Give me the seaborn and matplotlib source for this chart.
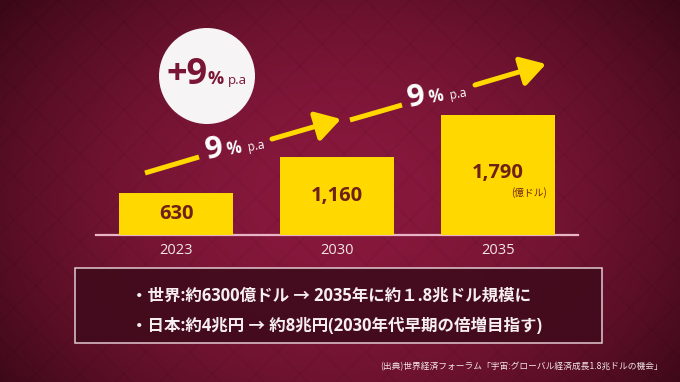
import numpy as np
import pandas as pd
import matplotlib
matplotlib.use("Agg")
import matplotlib.pyplot as plt
from matplotlib.patches import Rectangle, Circle
import seaborn as sns

# ---- data ----
years = ["2023", "2030", "2035"]
values = [630, 1160, 1790]
value_labels = ["630", "1,160", "1,790"]
unit_label = "(億ドル)"
growth_labels = ["9", "9"]
circle_label = "+9"
bullet_lines = ["・世界:約6300億ドル → 2035年に約１.8兆ドル規模に",
                "・日本:約4兆円 → 約8兆円(2030年代早期の倍増目指す)"]
source = "(出典)世界経済フォーラム「宇宙:グローバル経済成長1.8兆ドルの機会」"

sns.set_theme(style="white")
plt.rcParams['font.family'] = ['Noto Sans CJK JP', 'DejaVu Sans']
LAT = ['Open Sans', 'Noto Sans CJK JP', 'DejaVu Sans']

W, H = 680, 382
fig = plt.figure(figsize=(W / 100, H / 100), dpi=100)

# ---- background ----
bg = fig.add_axes([0, 0, 1, 1])
yy, xx = np.mgrid[0:H, 0:W]
d = np.sqrt(((xx - 340) / 430.0) ** 2 + ((yy - 200) / 320.0) ** 2)
d = np.clip(d, 0, 1)
inner = np.array([0x88, 0x18, 0x3d]) / 255
outer = np.array([0x3a, 0x08, 0x16]) / 255
t = d[..., None] ** 1.9
img = inner[None, None, :] * (1 - t) + outer[None, None, :] * t
bg.imshow(img, extent=[0, W, H, 0], aspect="auto", zorder=0)
for c in np.arange(-H, W + H, 44):
    bg.plot([c, c + H], [0, H], color="black", alpha=0.07, lw=0.7, zorder=1)
    bg.plot([c, c - H], [0, H], color="black", alpha=0.07, lw=0.7, zorder=1)
bg.set_xlim(0, W)
bg.set_ylim(H, 0)
bg.axis("off")

# ---- bars ----
left, right, base = 96, 578, 235
top = 40
ax = fig.add_axes([left / W, 1 - base / H, (right - left) / W, (base - top) / H])
ax.patch.set_alpha(0)
df = pd.DataFrame({"year": years, "value": values})
sns.barplot(data=df, x="year", y="value", color="#FFD800", saturation=1,
            width=0.71, linewidth=0, edgecolor="none", ax=ax, zorder=3)
ax.set_ylim(0, (base - top) / 0.067)
ax.set_xlim(-0.5, 2.5)
ax.set_xlabel("")
ax.set_ylabel("")
ax.set_yticks([])
for s in ["top", "left", "right"]:
    ax.spines[s].set_visible(False)
ax.spines["bottom"].set_color("#E9B3C8")
ax.spines["bottom"].set_linewidth(1.6)
ax.tick_params(axis="x", length=0, pad=6, labelsize=10.5, labelcolor="#F3E6EA")
for lbl in ax.get_xticklabels():
    lbl.set_family(LAT)
txtc = "#6E2116"
for i, (v, lab) in enumerate(zip(values, value_labels)):
    if i == 2:
        ax.text(i, v * 0.515, lab, ha="center", va="center", fontsize=14.5,
                fontweight="bold", color=txtc, zorder=5, family=LAT)
        ax.text(i + 0.305, v * 0.35, unit_label, ha="right", va="center",
                fontsize=7, color=txtc, zorder=5)
    else:
        ax.text(i, v / 2, lab, ha="center", va="center", fontsize=14.5,
                fontweight="bold", color=txtc, zorder=5, family=LAT)

# ---- overlay ----
ov = fig.add_axes([0, 0, 1, 1])
ov.patch.set_alpha(0)
ov.set_xlim(0, W)
ov.set_ylim(H, 0)
ov.axis("off")

yellow = "#FFD800"
arrows = [((145, 173), (199, 157), (272, 139), (341, 119)),
          ((350, 120), (402, 105), (475, 85), (546, 64))]
for a0, a1, a2, a3 in arrows:
    ov.plot([a0[0], a1[0]], [a0[1], a1[1]], color=yellow, lw=3.6,
            solid_capstyle="butt")
    ov.annotate("", xy=a3, xytext=a2,
                arrowprops=dict(arrowstyle="-|>,head_length=0.75,head_width=0.45",
                                lw=3.6, color=yellow, mutation_scale=20,
                                shrinkA=0, shrinkB=0))

labpos = [(207, 159), (409, 107)]
for (x, y), g in zip(labpos, growth_labels):
    kw = dict(ha="left", va="baseline", color="white", rotation=10,
              rotation_mode="anchor", family=LAT)
    ov.text(x, y, g, fontsize=22.5, fontweight="bold", **kw)
    ov.text(x + 21, y - 4, "%", fontsize=12, fontweight="bold", **kw)
    ov.text(x + 41, y - 8, "p.a", fontsize=8.5, **kw)

# circle
ov.add_patch(Circle((207, 76), 48, facecolor="#F6F4F5", edgecolor="none"))
circ = "#7A1535"
kw = dict(ha="left", va="baseline", color=circ, family=LAT)
ov.text(167, 84, circle_label, fontsize=26, fontweight="bold", **kw)
ov.text(208, 84, "%", fontsize=13, fontweight="bold", **kw)
ov.text(228, 84, "p.a", fontsize=9.5, **kw)

# text box
ov.add_patch(Rectangle((75, 268), 527, 75, facecolor="#420B1D",
                       edgecolor="#EAD3DA", lw=1.1, alpha=0.95))
ov.text(131, 296, bullet_lines[0], ha="left", va="center", fontsize=11.9,
        fontweight="bold", color="#F6EEF0", family=LAT)
ov.text(131, 326, bullet_lines[1], ha="left", va="center", fontsize=11.9,
        fontweight="bold", color="#F6EEF0", family=LAT)

ov.text(663, 367, source, ha="right", va="center", fontsize=6.3, color="#F3E6EA")

fig.savefig("out.png", dpi=100)
